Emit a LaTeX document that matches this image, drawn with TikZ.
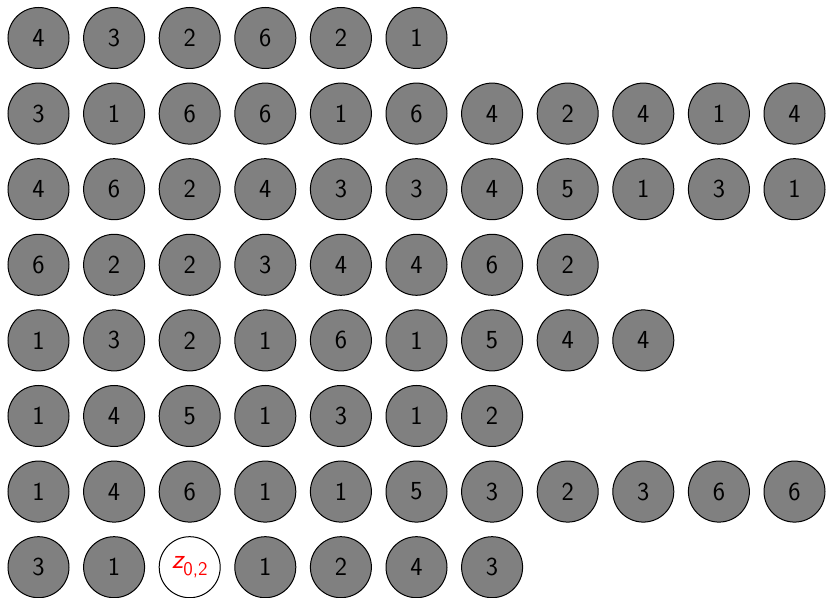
\documentclass[tikz,border=0pt]{standalone}
\usepackage{xcolor}
\begin{document}
\begin{tikzpicture}[x=0.75pt,y=-0.75pt,
  cell/.style={circle,draw=black,line width=0.75pt,fill=gray,minimum size=45.75pt,inner sep=0pt,
    font=\sffamily\fontsize{19.5}{22}\selectfont},
  hole/.style={cell,fill=white,text=red}]
\useasboundingbox (0,0) rectangle (826,598);
\foreach \row [count=\r from 0] in {
  {4,3,2,6,2,1},
  {3,1,6,6,1,6,4,2,4,1,4},
  {4,6,2,4,3,3,4,5,1,3,1},
  {6,2,2,3,4,4,6,2},
  {1,3,2,1,6,1,5,4,4},
  {1,4,5,1,3,1,2},
  {1,4,6,1,1,5,3,2,3,6,6}} {
  \foreach \v [count=\c from 0] in \row {
    \node[cell] (n-\r-\c) at ({38.5+75.6*\c},{38+75.6*\r}) {\v};
  }
}
\foreach \v [count=\c from 0] in {3,1,z,1,2,4,3} {
  \ifnum\c=2
    \node[hole] (n-7-\c) at ({38.5+75.6*\c},{38+75.6*7}) {\raisebox{0.15ex}{\fontsize{21}{24}\selectfont\slshape z}\raisebox{-0.5ex}{\fontsize{14.5}{16}\selectfont 0,2}};
  \else
    \node[cell] (n-7-\c) at ({38.5+75.6*\c},{38+75.6*7}) {\v};
  \fi
}
\end{tikzpicture}
\end{document}
